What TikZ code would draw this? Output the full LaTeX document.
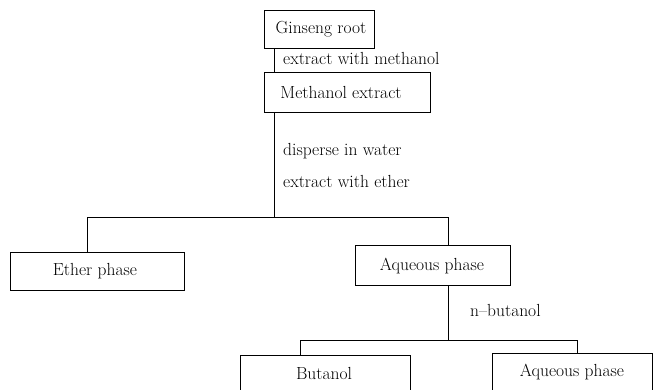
\documentclass[tikz,border=0pt]{standalone}
\begin{document}
\begin{tikzpicture}[x=1pt,y=-1pt,
  box/.style={draw,line width=0.8pt,inner sep=0pt},
  txt/.style={inner sep=0pt,font=\fontsize{17.5}{21}\selectfont},
  lbl/.style={txt,anchor=west},
  conn/.style={line width=0.8pt}]
\useasboundingbox (0,0) rectangle (659,389);
\fill[white] (0,0) rectangle (659,389);
\node[box,minimum width=110pt,minimum height=38pt] (gin) at (319,29) {};
\node[box,minimum width=166pt,minimum height=40pt] (meth) at (347,92) {};
\node[box,minimum width=174pt,minimum height=38pt] (ether) at (97,271) {};
\node[box,minimum width=155pt,minimum height=40pt] (aq) at (432.5,265) {};
\node[box,minimum width=170pt,minimum height=46pt] (but) at (325,378) {};
\node[box,minimum width=160pt,minimum height=46pt] (aqb) at (572,376) {};
\node[txt] (gint) at (321,29) {Ginseng root};
\node[txt] (metht) at (341,92) {Methanol extract};
\node[txt] (ethert) at (95,271) {Ether phase};
\node[txt] (aqt) at (432,266) {Aqueous phase};
\node[txt] (butt) at (324,373) {Butanol};
\node[txt] (aqbt) at (572,372) {Aqueous phase};
\coordinate (t1) at (274,0);
\coordinate (s1) at (274,217);
\coordinate (s1l) at (87,217);
\coordinate (s1r) at (448,217);
\coordinate (s2) at (448,340);
\coordinate (s2l) at (300,340);
\coordinate (s2r) at (577,340);
\draw[conn] (gin.south -| t1) -- (meth.north -| t1);
\draw[conn] (meth.south -| t1) -- (s1);
\draw[conn] (s1l) -- (s1r);
\draw[conn] (s1l) -- (ether.north -| s1l);
\draw[conn] (s1r) -- (aq.north -| s1r);
\draw[conn] (aq.south -| s2) -- (s2);
\draw[conn] (s2l) -- (s2r);
\draw[conn] (s2l) -- (but.north -| s2l);
\draw[conn] (s2r) -- (aqb.north -| s2r);
\node[lbl] (l1) at (283,58) {extract with methanol};
\node[lbl] (l2) at (283,151) {disperse in water};
\node[lbl] (l3) at (283,181) {extract with ether};
\node[lbl] (l4) at (470,310) {n--butanol};
\end{tikzpicture}
\end{document}
